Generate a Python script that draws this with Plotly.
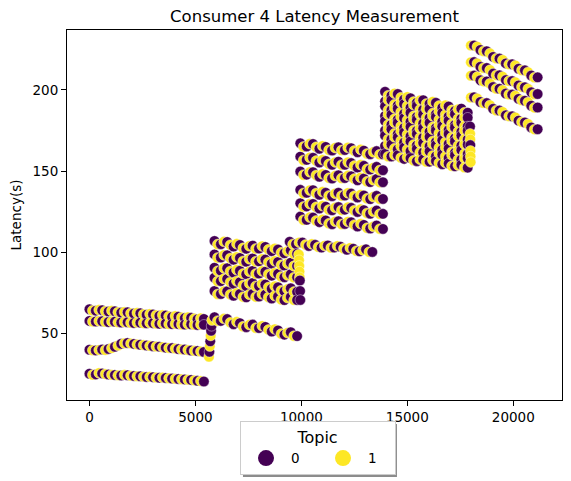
#! python
# -*- coding: utf-8 -*-

'''
Consumer 4 latency per message, coloured by topic.
Values read off the reference picture, band by band.
'''

import pandas as pd
import plotly.graph_objects as go

# --- sample positions (message index) for each phase, topic 0 / topic 1 ---
p1_x0 = [0, 300, 600, 900, 1200, 1500, 1800, 2100, 2400, 2700, 3000, 3300, 3600, 3900, 4200, 4500, 4800, 5100, 5400]
p1_x1 = [150, 450, 750, 1050, 1350, 1650, 1950, 2250, 2550, 2850, 3150, 3450, 3750, 4050, 4350, 4650, 4950, 5250]
p2_x0 = [5900, 6200, 6500, 6800, 7100, 7400, 7700, 8000, 8300, 8600, 8900, 9200, 9500, 9800]
p2_x1 = [6050, 6350, 6650, 6950, 7250, 7550, 7850, 8150, 8450, 8750, 9050, 9350, 9650]
p3_low_x0 = [9450, 9750, 10050, 10350, 10650, 10950, 11250, 11550, 11850, 12150, 12450, 12750, 13050, 13350]
p3_low_x1 = [9600, 9900, 10200, 10500, 10800, 11100, 11400, 11700, 12000, 12300, 12600, 12900, 13200]
p3_x0 = [9950, 10250, 10550, 10850, 11150, 11450, 11750, 12050, 12350, 12650, 12950, 13250, 13550, 13850]
p3_x1 = [10100, 10400, 10700, 11000, 11300, 11600, 11900, 12200, 12500, 12800, 13100, 13400, 13700]
p4_x0 = [13950, 14250, 14550, 14850, 15150, 15450, 15750, 16050, 16350, 16650, 16950, 17250, 17550, 17850]
p4_x1 = [14100, 14400, 14700, 15000, 15300, 15600, 15900, 16200, 16500, 16800, 17100, 17400, 17700]
p5_x0 = [18150, 18450, 18750, 19050, 19350, 19650, 19950, 20250, 20550, 20850, 21150]
p5_x1 = [18000, 18300, 18600, 18900, 19200, 19500, 19800, 20100, 20400, 20700, 21000]

# --- latency (s) per band ---
# phase 1
p1a_y0 = [64.8, 63.9, 64.2, 63.4, 63.5, 62.7, 62.9, 62.1, 62.3, 61.4, 61.6, 60.7, 60.9, 60.0, 60.2, 59.3, 59.5, 58.6, 58.8]
p1a_y1 = [64.0, 64.4, 63.5, 63.8, 62.9, 63.1, 62.3, 62.6, 61.7, 61.9, 61.1, 61.2, 60.4, 60.6, 59.7, 59.9, 59.0, 59.2]
p1b_y0 = [57.6, 57.2, 57.4, 56.9, 57.1, 56.6, 56.8, 56.3, 56.5, 56.1, 56.2, 55.8, 56.0, 55.6, 55.7, 55.3, 55.5, 55.1, 55.2]
p1b_y1 = [57.2, 57.5, 57.0, 57.2, 56.7, 56.9, 56.4, 56.6, 56.2, 56.4, 55.9, 56.1, 55.6, 55.8, 55.4, 55.6, 55.2, 55.3]
p1c_y0 = [39.8, 39.4, 39.9, 40.3, 41.6, 43.5, 44.0, 43.4, 42.9, 42.4, 42.0, 41.7, 41.1, 40.8, 40.2, 39.9, 39.3, 39.0, 38.4]
p1c_y1 = [39.5, 39.7, 39.6, 40.8, 42.4, 43.8, 43.7, 43.1, 42.7, 42.2, 41.8, 41.4, 40.9, 40.5, 40.0, 39.6, 39.1, 38.7]
p1d_y0 = [25.0, 24.6, 25.2, 24.5, 24.2, 23.9, 24.1, 23.6, 23.4, 23.0, 22.9, 22.5, 22.4, 22.0, 21.8, 21.5, 21.2, 20.6, 20.2]
p1d_y1 = [24.3, 25.5, 24.8, 24.4, 24.0, 24.3, 23.8, 23.5, 23.2, 23.1, 22.6, 22.7, 22.2, 21.9, 21.6, 21.3, 20.9, 20.5]

# phase 2
p2a_y0 = [59.9, 57.6, 58.7, 55.5, 56.2, 53.7, 55.3, 53.2, 53.9, 51.0, 51.7, 49.1, 50.6, 48.2]
p2a_y1 = [57.6, 59.0, 56.6, 57.0, 54.1, 55.2, 53.2, 54.5, 52.1, 52.5, 49.6, 50.2, 48.3]
p2b_y0 = [106.9, 104.9, 106.3, 103.4, 104.4, 102.1, 104.0, 102.2, 103.2, 100.6, 101.6, 99.3, 101.1, 99.0]
p2b_y1 = [104.8, 106.5, 104.4, 105.1, 102.5, 103.8, 102.1, 103.7, 101.6, 102.3, 99.7, 100.6, 99.0]
p2c_y0 = [98.6, 96.7, 98.1, 95.3, 96.4, 94.1, 96.1, 94.3, 95.4, 92.9, 93.9, 91.7, 93.5, 91.5]
p2c_y1 = [96.5, 98.2, 96.2, 97.0, 94.4, 95.8, 94.2, 95.8, 93.8, 94.5, 92.0, 93.0, 91.4]
p2d_y0 = [90.4, 88.6, 90.1, 87.4, 88.5, 86.4, 88.4, 86.8, 87.9, 85.5, 86.6, 84.5, 86.4, 84.5]
p2d_y1 = [88.3, 90.2, 88.2, 89.1, 86.7, 88.1, 86.6, 88.3, 86.4, 87.2, 84.8, 85.8, 84.4]
p2e_y0 = [84.2, 82.1, 83.5, 80.5, 81.5, 79.1, 80.9, 79.1, 80.0, 77.4, 78.3, 75.9, 77.7, 75.5]
p2e_y1 = [82.0, 83.6, 81.5, 82.1, 79.5, 80.7, 79.0, 80.5, 78.3, 79.0, 76.3, 77.2, 75.5]
p2f_y0 = [76.0, 74.2, 75.8, 73.1, 74.2, 72.1, 74.2, 72.6, 73.8, 71.4, 72.6, 70.4, 72.4, 70.5]
p2f_y1 = [74.0, 75.8, 73.9, 74.8, 72.4, 73.9, 72.4, 74.1, 72.2, 73.1, 70.7, 71.8, 70.4]

# phase 3
p3_low_y0 = [106.4, 105.0, 105.9, 103.8, 104.5, 102.8, 104.1, 102.8, 103.3, 101.5, 102.1, 100.5, 101.7, 100.1]
p3_low_y1 = [104.9, 106.0, 104.5, 105.0, 103.1, 104.0, 102.7, 103.8, 102.2, 102.6, 100.7, 101.3, 100.1]
p3a_y0 = [167.1, 165.2, 166.7, 163.8, 164.9, 162.7, 164.7, 163.0, 164.1, 161.6, 162.6, 160.4, 162.3, 160.3]
p3a_y1 = [165.0, 166.8, 164.8, 165.5, 163.0, 164.4, 162.8, 164.5, 162.5, 163.3, 160.7, 161.7, 160.2]
p3b_y0 = [158.9, 156.9, 158.2, 155.3, 156.2, 153.9, 155.8, 153.9, 154.9, 152.2, 153.2, 150.9, 152.6, 150.5]
p3b_y1 = [156.7, 158.4, 156.3, 156.9, 154.3, 155.5, 153.8, 155.4, 153.2, 153.9, 151.2, 152.1, 150.5]
p3c_y0 = [149.7, 147.8, 149.3, 146.5, 147.6, 145.4, 147.4, 145.7, 146.8, 144.3, 145.4, 143.2, 145.1, 143.1]
p3c_y1 = [147.6, 149.4, 147.4, 148.2, 145.7, 147.1, 145.5, 147.2, 145.2, 146.0, 143.5, 144.5, 143.0]
p3d_y0 = [138.4, 136.6, 138.2, 135.4, 136.6, 134.5, 136.6, 134.9, 136.1, 133.7, 134.9, 132.7, 134.7, 132.8]
p3d_y1 = [136.3, 138.2, 136.3, 137.2, 134.8, 136.2, 134.7, 136.5, 134.6, 135.4, 133.0, 134.1, 132.7]
p3e_y0 = [130.1, 128.2, 129.7, 126.9, 128.0, 125.8, 127.8, 126.2, 127.3, 124.8, 125.9, 123.7, 125.6, 123.6]
p3e_y1 = [128.0, 129.8, 127.8, 128.6, 126.1, 127.5, 125.9, 127.7, 125.7, 126.5, 124.0, 125.0, 123.5]
p3f_y0 = [121.9, 119.9, 121.3, 118.5, 119.5, 117.2, 119.1, 117.4, 118.4, 115.8, 116.8, 114.6, 116.4, 114.3]
p3f_y1 = [119.8, 121.5, 119.4, 120.1, 117.6, 118.9, 117.2, 118.8, 116.8, 117.5, 114.9, 115.8, 114.3]

# phase 4
p4a_y0 = [198.9, 196.5, 197.5, 194.2, 194.9, 192.2, 193.7, 191.5, 192.1, 189.1, 189.8, 187.1, 188.5, 186.0]
p4a_y1 = [196.6, 197.9, 195.4, 195.7, 192.7, 193.6, 191.5, 192.8, 190.3, 190.6, 187.6, 188.1, 186.1]
p4b_y0 = [193.0, 193.7, 190.5, 191.4, 189.1, 190.3, 187.9, 188.3, 185.0, 185.9, 183.6, 185.1, 182.3, 182.9]
p4b_y1 = [193.9, 191.1, 192.3, 190.1, 190.9, 187.9, 188.2, 185.6, 186.8, 184.7, 185.4, 182.3, 183.0]
p4c_y0 = [189.9, 187.6, 188.6, 185.4, 186.0, 183.4, 184.9, 182.8, 183.4, 180.5, 181.1, 178.5, 179.9, 177.5]
p4c_y1 = [187.6, 188.9, 186.5, 186.8, 183.9, 184.8, 182.8, 184.0, 181.6, 182.0, 179.0, 179.6, 177.6]
p4d_y0 = [184.0, 184.8, 181.7, 182.7, 180.4, 181.7, 179.4, 179.8, 176.6, 177.6, 175.3, 176.9, 174.2, 174.9]
p4d_y1 = [184.9, 182.2, 183.5, 181.4, 182.3, 179.4, 179.8, 177.1, 178.4, 176.4, 177.2, 174.2, 175.0]
p4e_y0 = [180.9, 178.6, 179.8, 176.6, 177.3, 174.8, 176.4, 174.3, 175.0, 172.2, 172.9, 170.3, 171.9, 169.5]
p4e_y1 = [178.6, 180.0, 177.7, 178.1, 175.2, 176.3, 174.3, 175.6, 173.3, 173.7, 170.8, 171.5, 169.6]
p4f_y0 = [175.0, 175.8, 172.8, 173.8, 171.5, 172.9, 170.6, 171.1, 167.9, 169.0, 166.7, 168.3, 165.7, 166.4]
p4f_y1 = [175.9, 173.2, 174.6, 172.5, 173.4, 170.6, 171.0, 168.4, 169.8, 167.8, 168.6, 165.7, 166.5]
p4g_y0 = [171.9, 169.6, 170.8, 167.6, 168.3, 165.8, 167.4, 165.3, 166.0, 163.2, 163.9, 161.3, 162.9, 160.5]
p4g_y1 = [169.6, 171.0, 168.7, 169.1, 166.2, 167.3, 165.3, 166.6, 164.3, 164.7, 161.8, 162.5, 160.6]
p4h_y0 = [165.5, 166.4, 163.4, 164.5, 162.3, 163.7, 161.5, 162.2, 159.1, 160.2, 158.0, 159.7, 157.1, 157.9]
p4h_y1 = [166.5, 163.9, 165.3, 163.3, 164.3, 161.5, 162.0, 159.5, 160.9, 159.0, 159.9, 157.0, 157.9]
p4i_y0 = [160.6, 159.0, 159.7, 157.5, 158.0, 156.1, 157.2, 155.8, 156.2, 154.2, 154.6, 152.9, 153.9, 152.1]
p4i_y1 = [159.0, 159.9, 158.2, 158.6, 156.5, 157.2, 155.7, 156.7, 155.0, 155.2, 153.1, 153.6, 152.2]

# phase 5
p5a_y0 = [227.5, 224.7, 223.9, 220.4, 219.4, 216.4, 215.9, 213.1, 212.1, 208.9, 207.8]
p5a_y1 = [227.4, 226.7, 223.9, 222.6, 219.4, 218.5, 215.8, 215.1, 212.2, 211.0, 207.7]
p5b_y0 = [217.2, 214.3, 213.6, 210.1, 209.1, 206.1, 205.5, 202.8, 201.7, 198.6, 197.5]
p5b_y1 = [217.1, 216.4, 213.6, 212.3, 209.1, 208.2, 205.5, 204.8, 201.9, 200.7, 197.4]
p5c_y0 = [208.9, 206.0, 205.3, 201.8, 200.8, 197.8, 197.2, 194.5, 193.4, 190.3, 189.2]
p5c_y1 = [208.8, 208.1, 205.3, 204.0, 200.8, 199.9, 197.2, 196.5, 193.6, 192.4, 189.1]
p5d_y0 = [195.5, 192.6, 191.9, 188.4, 187.4, 184.4, 183.8, 181.1, 180.0, 176.9, 175.8]
p5d_y1 = [195.4, 194.7, 191.9, 190.6, 187.4, 186.5, 183.8, 183.1, 180.2, 179.0, 175.7]

# jumps between phases (x, latency, topic)
jump1_x = [5640, 5660, 5680, 5700, 5720, 5740, 5760, 5780]
jump1_y = [35.5, 38.5, 42.0, 45.0, 48.5, 51.5, 54.5, 58.0]
jump1_topic = [1, 0, 1, 0, 1, 0, 0, 1]
jump2_x = [9880, 9890, 9900, 9910, 9920, 9930, 9940, 9950]
jump2_y = [98.5, 95.0, 91.5, 88.0, 84.5, 82.5, 76.0, 70.5]
jump2_topic = [1, 1, 1, 1, 1, 0, 0, 0]
jump4_x = [17960, 17965, 17970, 17975, 17980, 17985, 17990]
jump4_y = [177.5, 173.0, 169.5, 166.0, 162.5, 159.0, 155.5]
jump4_topic = [0, 1, 1, 0, 1, 1, 1]

x_ticks = [0, 5000, 10000, 15000, 20000]
y_ticks = [50, 100, 150, 200]
topic_colors = {0: '#440154', 1: '#fde725'}

# build one table, ordered by message index so the topics interleave
bands = [
  (p1_x0, p1a_y0, p1_x1, p1a_y1), (p1_x0, p1b_y0, p1_x1, p1b_y1),
  (p1_x0, p1c_y0, p1_x1, p1c_y1), (p1_x0, p1d_y0, p1_x1, p1d_y1),
  (p2_x0, p2a_y0, p2_x1, p2a_y1), (p2_x0, p2b_y0, p2_x1, p2b_y1),
  (p2_x0, p2c_y0, p2_x1, p2c_y1), (p2_x0, p2d_y0, p2_x1, p2d_y1),
  (p2_x0, p2e_y0, p2_x1, p2e_y1), (p2_x0, p2f_y0, p2_x1, p2f_y1),
  (p3_low_x0, p3_low_y0, p3_low_x1, p3_low_y1),
  (p3_x0, p3a_y0, p3_x1, p3a_y1), (p3_x0, p3b_y0, p3_x1, p3b_y1),
  (p3_x0, p3c_y0, p3_x1, p3c_y1), (p3_x0, p3d_y0, p3_x1, p3d_y1),
  (p3_x0, p3e_y0, p3_x1, p3e_y1), (p3_x0, p3f_y0, p3_x1, p3f_y1),
  (p4_x0, p4a_y0, p4_x1, p4a_y1), (p4_x0, p4b_y0, p4_x1, p4b_y1),
  (p4_x0, p4c_y0, p4_x1, p4c_y1), (p4_x0, p4d_y0, p4_x1, p4d_y1),
  (p4_x0, p4e_y0, p4_x1, p4e_y1), (p4_x0, p4f_y0, p4_x1, p4f_y1),
  (p4_x0, p4g_y0, p4_x1, p4g_y1), (p4_x0, p4h_y0, p4_x1, p4h_y1),
  (p4_x0, p4i_y0, p4_x1, p4i_y1),
  (p5_x0, p5a_y0, p5_x1, p5a_y1), (p5_x0, p5b_y0, p5_x1, p5b_y1),
  (p5_x0, p5c_y0, p5_x1, p5c_y1), (p5_x0, p5d_y0, p5_x1, p5d_y1),
]
rows = []
for x0, y0, x1, y1 in bands:
  rows += [(x, y, 0) for x, y in zip(x0, y0)]
  rows += [(x, y, 1) for x, y in zip(x1, y1)]
for jx, jy, jt in [(jump1_x, jump1_y, jump1_topic), (jump2_x, jump2_y, jump2_topic), (jump4_x, jump4_y, jump4_topic)]:
  rows += list(zip(jx, jy, jt))

df = pd.DataFrame(rows, columns=['x', 'latency', 'topic'])
df = df.sort_values('x', kind='mergesort')

fig = go.Figure()
fig.add_trace(go.Scatter(
  x=df['x'], y=df['latency'], mode='markers', showlegend=False,
  marker=dict(size=10.5, color=[topic_colors[t] for t in df['topic']],
              line=dict(color='white', width=0.4)),
))
# legend entries
for t in [0, 1]:
  fig.add_trace(go.Scatter(
    x=[None], y=[None], mode='markers', name=str(t),
    marker=dict(size=16, color=topic_colors[t]),
  ))

axis_style = dict(
  showgrid=False, zeroline=False, showline=True, mirror=True,
  linecolor='black', linewidth=1, ticks='outside', ticklen=5,
  tickwidth=1, tickcolor='black', tickfont=dict(size=13.5, color='black'),
  automargin=False,
)
fig.update_xaxes(range=[-1060, 22300], tickvals=x_ticks, ticktext=[str(v) for v in x_ticks], **axis_style)
fig.update_yaxes(range=[8.8, 237], tickvals=y_ticks, ticktext=[str(v) for v in y_ticks],
                 title=dict(text='Latency(s)', standoff=8, font=dict(size=13.5, color='black')),
                 **axis_style)

# legend shadow (the page body adds 8 px, so the figure is 8 px smaller)
fig.add_shape(type='rect', xref='paper', yref='paper', layer='above',
              x0=0.3555, x1=0.6666, y0=-0.2081, y1=-0.0649,
              fillcolor='#8c8c8c', line=dict(width=0))

fig.update_layout(
  width=563, height=473,
  margin=dict(l=59, r=9, t=22, b=81, autoexpand=False),
  paper_bgcolor='white', plot_bgcolor='white',
  font=dict(family='DejaVu Sans', size=13.5, color='black'),
  title=dict(text='Consumer 4 Latency Measurement', x=0.5, xref='paper',
             y=1 - 8 / 473, yanchor='middle', font=dict(size=16.5, color='black')),
  legend=dict(
    orientation='h', x=0.3495, xanchor='left', y=-0.0568, yanchor='top',
    title=dict(text='Topic', side='top center'),
    bgcolor='white', bordercolor='#cccccc', borderwidth=1,
    itemsizing='trace', font=dict(size=13.5),
    itemwidth=40, entrywidth=22, entrywidthmode='pixels',
  ),
)

fig.write_html('out.html')
